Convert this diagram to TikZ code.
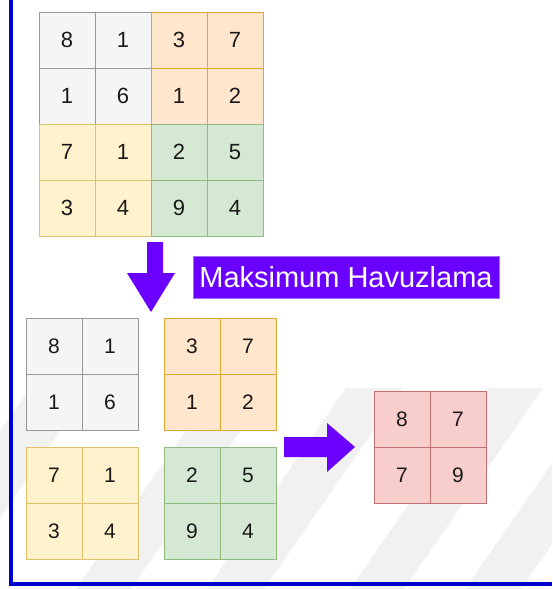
\documentclass[tikz,border=0pt]{standalone}
\usepackage{fontspec}
\setmainfont{Liberation Sans}
\definecolor{gfill}{HTML}{F5F5F5}\definecolor{gline}{HTML}{999999}
\definecolor{ofill}{HTML}{FFE6CC}\definecolor{oline}{HTML}{E0A830}
\definecolor{yfill}{HTML}{FFF2CC}\definecolor{yline}{HTML}{E0C068}
\definecolor{nfill}{HTML}{D5E8D4}\definecolor{nline}{HTML}{90BB80}
\definecolor{rfill}{HTML}{F8CECC}\definecolor{rline}{HTML}{C07070}
\definecolor{purp}{HTML}{6A00FF}\definecolor{purpline}{HTML}{9A70FF}
\definecolor{framec}{HTML}{0000CC}\definecolor{wm}{HTML}{F1F1F1}
\newcommand\mkblock[9]{%
  \node[cell,fill=#4,draw=#5] (#1a) at (#2,#3) {#6};
  \node[cell,fill=#4,draw=#5] (#1b) at (#2+56,#3) {#7};
  \node[cell,fill=#4,draw=#5] (#1c) at (#2,#3+56) {#8};
  \node[cell,fill=#4,draw=#5] (#1d) at (#2+56,#3+56) {#9};}
\begin{document}
\begin{tikzpicture}[x=1pt,y=-1pt,
  cell/.style={line width=0.9pt, minimum size=56pt, inner sep=0pt, outer sep=0pt,
    anchor=north west, text=black!90},
  bigfont/.style={font=\fontsize{22}{22}\selectfont},
  smallfont/.style={font=\fontsize{21}{21}\selectfont}]
\useasboundingbox (0,0) rectangle (552,589);
\fill[white] (0,0) rectangle (552,589);
% faint watermark
\begin{scope}
  \clip (0,385) rectangle (552,589);
  \fill[wm] (30,388) -- (90,388) -- ++(-139,201) -- ++(-60,0) -- cycle;
  \fill[wm] (215,388) -- (270,388) -- ++(-139,201) -- ++(-55,0) -- cycle;
  \fill[wm] (346,388) -- (403,388) -- ++(-139,201) -- ++(-57,0) -- cycle;
  \fill[wm] (489,388) -- (543,388) -- ++(-139,201) -- ++(-54,0) -- cycle;
  \fill[wm] (604,388) -- (660,388) -- ++(-139,201) -- ++(-56,0) -- cycle;
\end{scope}
% frame
\draw[framec, line width=4pt] (11,0) -- (11,584) -- (552,584);
% top grid
\begin{scope}[cell/.append style={bigfont}]
  \mkblock{tg}{39}{12}{gfill}{gline}{8}{1}{1}{6}
  \mkblock{to}{151}{12}{ofill}{oline}{3}{7}{1}{2}
  \mkblock{ty}{39}{124}{yfill}{yline}{7}{1}{3}{4}
  \mkblock{tn}{151}{124}{nfill}{nline}{2}{5}{9}{4}
\end{scope}
% down arrow
\fill[purp] (147,242) -- (163,242) -- (163,273) -- (175,273) -- (151,312)
  -- (127,273) -- (147,273) -- cycle;
\node[fill=purp, draw=purpline, line width=0.6pt, minimum width=306pt, minimum height=42pt,
  inner sep=0pt, outer sep=0pt, anchor=north west, text=white,
  font=\fontsize{29}{29}\selectfont] (lbl) at (193,256) {Maksimum Havuzlama};
% bottom blocks
\begin{scope}[cell/.append style={smallfont}]
  \mkblock{bg}{26}{318}{gfill}{gline}{8}{1}{1}{6}
  \mkblock{bo}{164}{318}{ofill}{oline}{3}{7}{1}{2}
  \mkblock{by}{26}{447}{yfill}{yline}{7}{1}{3}{4}
  \mkblock{bn}{164}{447}{nfill}{nline}{2}{5}{9}{4}
  \mkblock{br}{374}{391}{rfill}{rline}{8}{7}{7}{9}
\end{scope}
% right arrow
\fill[purp] (284,437) -- (327,437) -- (327,423) -- (355,447) -- (327,472)
  -- (327,457) -- (284,457) -- cycle;
\end{tikzpicture}
\end{document}
